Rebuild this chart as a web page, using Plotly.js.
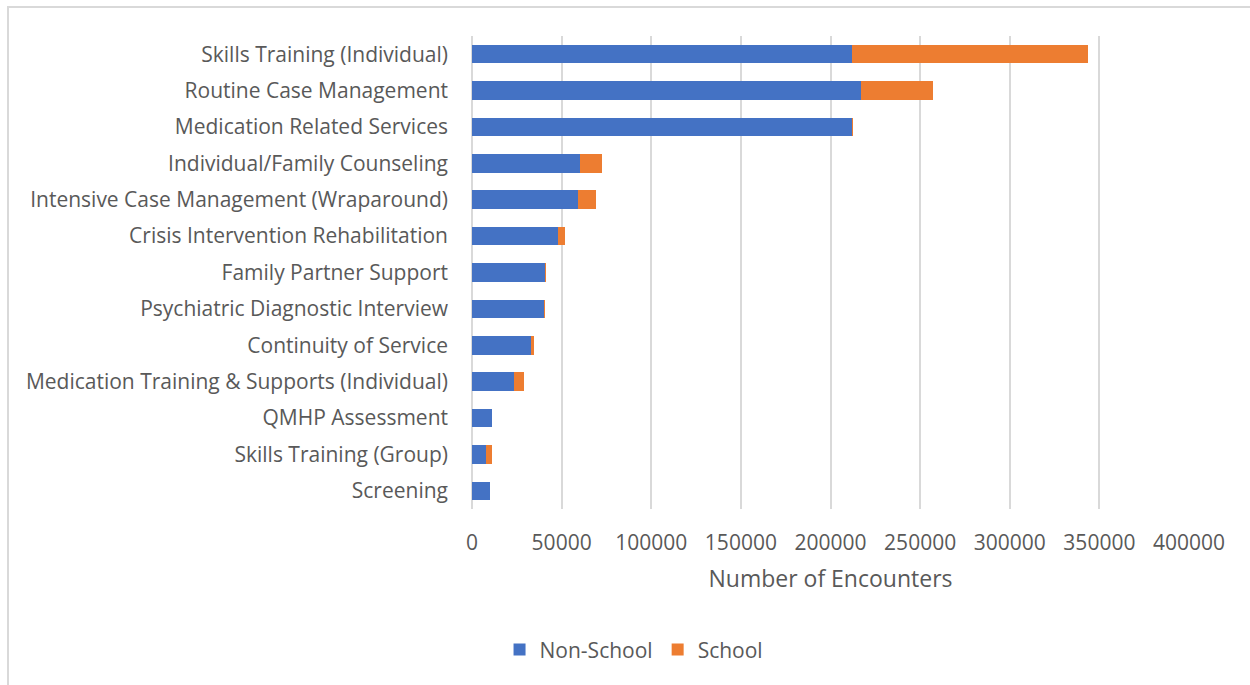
<!DOCTYPE html>
<html>
<head>
<meta charset="utf-8">
<script src="https://cdn.plot.ly/plotly-3.0.1.min.js"></script>
<style>
html,body{margin:0;padding:0;width:1250px;height:685px;overflow:hidden;background:#fff;}
#frame{position:absolute;left:7px;top:6px;width:1300px;height:700px;border:2px solid #d9d9d9;box-sizing:border-box;}
#chart{position:absolute;left:0;top:0;width:1250px;height:685px;}
</style>
</head>
<body>
<div id="frame"></div>
<div id="chart"></div>
<script>
const categories = [
  "Skills Training (Individual)",
  "Routine Case Management",
  "Medication Related Services",
  "Individual/Family Counseling",
  "Intensive Case Management (Wraparound)",
  "Crisis Intervention Rehabilitation",
  "Family Partner Support",
  "Psychiatric Diagnostic Interview",
  "Continuity of Service",
  "Medication Training & Supports (Individual)",
  "QMHP Assessment",
  "Skills Training (Group)",
  "Screening"
];
const nonSchool = [212200, 217000, 212200, 60200, 59300, 48000, 40900, 40300, 33100, 23400, 11100, 8000, 10300];
const school    = [131500, 40400, 300, 12100, 9900, 4100, 600, 300, 1500, 5600, 100, 3000, 0];
const xTicks = [0, 50000, 100000, 150000, 200000, 250000, 300000, 350000, 400000];

const fontFam = "'Open Sans', Lato, sans-serif";
const traces = [
  {type:'bar', orientation:'h', name:'Non-School', y:categories, x:nonSchool,
   marker:{color:'#4472c4'}},
  {type:'bar', orientation:'h', name:'School', y:categories, x:school,
   marker:{color:'#ed7d31'}}
];
const layout = {
  width:1250, height:685,
  paper_bgcolor:'rgba(0,0,0,0)', plot_bgcolor:'rgba(0,0,0,0)',
  barmode:'stack', bargap:0.49,
  margin:{l:472, r:61, t:36, b:176},
  font:{family:fontFam, size:21, color:'#595959'},
  showlegend:true,
  legend:{orientation:'h', x:0.226, xanchor:'center', y:-0.298, yanchor:'middle',
          font:{size:21, color:'#595959'}, traceorder:'normal', itemwidth:30},
  xaxis:{range:[0,400000], tickvals:xTicks, ticktext:xTicks.map(String),
         showgrid:true, gridcolor:'#d9d9d9', gridwidth:2, zeroline:true, zerolinecolor:'#d9d9d9', zerolinewidth:2,
         showline:false, ticks:'', ticklabelstandoff:19,
         title:{text:'Number of Encounters', font:{size:23, color:'#595959'}, standoff:15}},
  yaxis:{autorange:'reversed', showgrid:false, zeroline:false, showline:false, ticks:'',
         ticklabelstandoff:23, type:'category'}
};
Plotly.newPlot('chart', traces, layout, {displayModeBar:false, staticPlot:true});
</script>
</body>
</html>
